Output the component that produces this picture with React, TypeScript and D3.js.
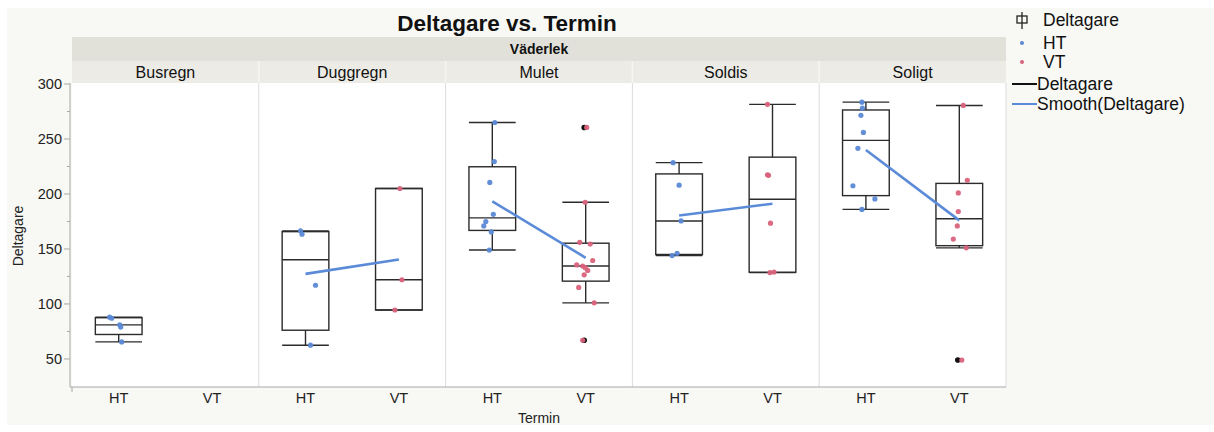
import React from 'react';
import * as d3 from 'd3';

// ---- Data ----
const panels = ['Busregn', 'Duggregn', 'Mulet', 'Soldis', 'Soligt'];
const terms = ['HT', 'VT'];

const busregnHT = [88, 87, 81, 79, 65.5];
const busregnVT: number[] = [];
const duggregnHT = [166.5, 163.5, 117, 62.5];
const duggregnVT = [205, 122, 94.5];
const muletHT = [265, 229.5, 210.5, 181.5, 175, 171, 165.5, 149];
const muletVT = [192.5, 156, 154.5, 139.5, 135.5, 134.5, 133, 130.5, 126.5, 115, 101, 260.5, 67];
const soldisHT = [228.5, 208, 175.5, 146, 144];
const soldisVT = [281.5, 217.5, 217, 173.5, 129, 128.5];
const soligtHT = [283.5, 278, 271.5, 256, 241.5, 207.5, 195.5, 186];
const soligtVT = [280.5, 212.5, 201, 184, 171, 159, 151, 49];

// horizontal jitter of each point (px, relative to the group centre)
const busregnHTJitter = [-9, -7, 1, 2, 3];
const busregnVTJitter: number[] = [];
const duggregnHTJitter = [-5, -3.5, 10, 5];
const duggregnVTJitter = [1, 3, -4];
const muletHTJitter = [2.5, 2, -2.5, 1, -6.5, -8.5, -1, -3];
const muletVTJitter = [-0.5, -6, 4.5, 7, -9, -3, -0.5, 2, -1.5, -7, 8.5, 1, -3];
const soldisHTJitter = [-6, 0, 2, -2, -7];
const soldisVTJitter = [-5, -5, -4, -2, 1.5, -2.5];
const soligtHTJitter = [-4, -3.5, -5, -2.5, -8, -13, 9, -4];
const soligtVTJitter = [4, 8, -1, -1, -2, -6, 7, 2.5];

const panelValues = [
  [busregnHT, busregnVT],
  [duggregnHT, duggregnVT],
  [muletHT, muletVT],
  [soldisHT, soldisVT],
  [soligtHT, soligtVT],
];
const panelJitter = [
  [busregnHTJitter, busregnVTJitter],
  [duggregnHTJitter, duggregnVTJitter],
  [muletHTJitter, muletVTJitter],
  [soldisHTJitter, soldisVTJitter],
  [soligtHTJitter, soligtVTJitter],
];

const yTicks = [50, 100, 150, 200, 250, 300];
const yMinorTicks = [75, 125, 175, 225, 275];

const title = 'Deltagare vs. Termin';
const facetTitle = 'Väderlek';
const yTitle = 'Deltagare';
const xTitle = 'Termin';

// ---- Styling ----
const FONT = '"Liberation Sans", Arial, Helvetica, sans-serif';
const HT_COLOR = '#5a89d6';
const VT_COLOR = '#d9627c';
const SMOOTH_COLOR = '#5b8bd8';
const BOX_COLOR = '#2b2b2b';

// JMP-style quantile: position p*(n+1)
function quant(sorted: number[], p: number) {
  const n = sorted.length;
  const pos = p * (n + 1);
  if (pos <= 1) return sorted[0];
  if (pos >= n) return sorted[n - 1];
  const lo = Math.floor(pos);
  const f = pos - lo;
  return sorted[lo - 1] + f * (sorted[lo] - sorted[lo - 1]);
}

function boxStats(vals: number[]) {
  const s = [...vals].sort((a, b) => a - b);
  const q1 = quant(s, 0.25);
  const med = quant(s, 0.5);
  const q3 = quant(s, 0.75);
  const iqr = q3 - q1;
  const loF = q1 - 1.5 * iqr;
  const hiF = q3 + 1.5 * iqr;
  const inside = s.filter((v) => v >= loF && v <= hiF);
  return {
    q1, med, q3,
    lo: d3.min(inside) as number,
    hi: d3.max(inside) as number,
    outliers: s.filter((v) => v < loF || v > hiF),
    mean: d3.mean(s) as number,
  };
}

export default function App() {
  const W = 1214, H = 432;
  const plotLeft = 72, plotRight = 1006, plotTop = 83, plotBottom = 387;
  const bandTop = 37, subTop = 61;

  const y = d3.scaleLinear().domain([24.5, 300]).range([plotBottom, 84]);
  const panelScale = d3.scaleBand<string>().domain(panels).range([plotLeft, plotRight]);
  const pw = panelScale.bandwidth();
  const xInner = d3.scaleBand<string>().domain(terms).range([0, pw]);
  const bw = xInner.bandwidth() / 2;

  return (
    <svg width={W} height={H} style={{ position: 'absolute', left: 0, top: 0 }} fontFamily={FONT}>
      <rect x={0} y={0} width={W} height={H} fill="#ffffff" />
      <rect x={7} y={8} width={W - 7} height={417} fill="#f8f8f4" />

      {/* title */}
      <text x={507} y={31} textAnchor="middle" fontSize={22.5} fontWeight="bold" fill="#111">{title}</text>

      {/* facet header */}
      <rect x={plotLeft} y={bandTop} width={plotRight - plotLeft} height={subTop - bandTop} fill="#e2e1d9" />
      <text x={(plotLeft + plotRight) / 2} y={54} textAnchor="middle" fontSize={14} fontWeight="bold" fill="#111">{facetTitle}</text>
      <rect x={plotLeft} y={subTop} width={plotRight - plotLeft} height={plotTop - subTop} fill="#ecebe5" />

      {/* plot area */}
      <rect x={plotLeft} y={plotTop} width={plotRight - plotLeft} height={plotBottom - plotTop} fill="#ffffff" />

      {panels.map((p, i) => {
        const px = panelScale(p) as number;
        return (
          <g key={p}>
            <text x={px + pw / 2} y={78} textAnchor="middle" fontSize={16} fill="#111">{p}</text>
            {i > 0 && <line x1={px} x2={px} y1={subTop} y2={plotTop} stroke="#f7f7f2" strokeWidth={1.5} />}
            {i > 0 && <line x1={px} x2={px} y1={plotTop} y2={plotBottom} stroke="#dcdcdc" strokeWidth={1} />}
          </g>
        );
      })}
      <line x1={plotRight} x2={plotRight} y1={plotTop} y2={plotBottom} stroke="#dcdcdc" />

      {/* y axis */}
      <line x1={70} x2={70} y1={plotTop} y2={plotBottom} stroke="#a8a8a8" />
      {yTicks.map((t) => (
        <g key={t}>
          <line x1={64} x2={70} y1={y(t)} y2={y(t)} stroke="#a8a8a8" />
          <text x={62} y={y(t) + 5} textAnchor="end" fontSize={14.5} fill="#222">{t}</text>
        </g>
      ))}
      {yMinorTicks.map((t) => (
        <line key={t} x1={67} x2={70} y1={y(t)} y2={y(t)} stroke="#a8a8a8" />
      ))}
      <text transform={`translate(23,236) rotate(-90)`} textAnchor="middle" fontSize={14} fill="#222">{yTitle}</text>

      {/* x axis */}
      <line x1={70} x2={plotRight} y1={plotBottom} y2={plotBottom} stroke="#a8a8a8" />
      <line x1={72} x2={72} y1={plotBottom} y2={plotBottom + 5} stroke="#a8a8a8" />
      {panels.map((p) =>
        terms.map((t) => {
          const cx = (panelScale(p) as number) + (xInner(t) as number) + xInner.bandwidth() / 2;
          return (
            <text key={p + t} x={cx} y={403} textAnchor="middle" fontSize={14.5} fill="#222">{t}</text>
          );
        })
      )}
      <text x={(plotLeft + plotRight) / 2} y={423} textAnchor="middle" fontSize={14} fill="#222">{xTitle}</text>

      {/* boxes, points, smoothers */}
      {panels.map((p, i) => {
        const px = panelScale(p) as number;
        const centres = terms.map((t) => px + (xInner(t) as number) + xInner.bandwidth() / 2);
        const stats = panelValues[i].map((v) => (v.length ? boxStats(v) : null));
        return (
          <g key={p}>
            {stats.map((s, j) => {
              if (!s) return null;
              const cx = centres[j];
              return (
                <g key={j} stroke={BOX_COLOR} strokeWidth={1.4} fill="none">
                  <rect x={cx - bw / 2} y={y(s.q3)} width={bw} height={y(s.q1) - y(s.q3)} />
                  <line x1={cx - bw / 2} x2={cx + bw / 2} y1={y(s.med)} y2={y(s.med)} />
                  <line x1={cx} x2={cx} y1={y(s.q3)} y2={y(s.hi)} />
                  <line x1={cx} x2={cx} y1={y(s.q1)} y2={y(s.lo)} />
                  <line x1={cx - bw / 2} x2={cx + bw / 2} y1={y(s.hi)} y2={y(s.hi)} />
                  <line x1={cx - bw / 2} x2={cx + bw / 2} y1={y(s.lo)} y2={y(s.lo)} />
                  {s.outliers.map((o, k) => (
                    <circle key={k} cx={cx - 1.5} cy={y(o)} r={2.8} fill="#111" stroke="none" />
                  ))}
                </g>
              );
            })}
            {panelValues[i].map((vals, j) =>
              vals.map((v, k) => (
                <circle
                  key={j + '-' + k}
                  cx={centres[j] + panelJitter[i][j][k]}
                  cy={y(v)}
                  r={2.6}
                  fill={j === 0 ? HT_COLOR : VT_COLOR}
                  opacity={0.95}
                />
              ))
            )}
            {stats[0] && stats[1] && (
              <line
                x1={centres[0]} y1={y(stats[0].mean)}
                x2={centres[1]} y2={y(stats[1].mean)}
                stroke={SMOOTH_COLOR} strokeWidth={2.6}
              />
            )}
          </g>
        );
      })}

      {/* legend */}
      <g fontSize={17.5} fill="#111">
        <g stroke="#222" strokeWidth={1.3} fill="none">
          <line x1={1022} x2={1022} y1={12} y2={29} />
          <rect x={1017} y={16} width={10} height={7} />
        </g>
        <text x={1043} y={26}>Deltagare</text>
        <circle cx={1022} cy={43} r={2} fill={HT_COLOR} />
        <text x={1043} y={49}>HT</text>
        <circle cx={1022} cy={62} r={2} fill={VT_COLOR} />
        <text x={1043} y={68}>VT</text>
        <line x1={1012} x2={1037} y1={84} y2={84} stroke="#111" strokeWidth={2} />
        <text x={1037} y={90}>Deltagare</text>
        <line x1={1012} x2={1037} y1={104} y2={104} stroke={SMOOTH_COLOR} strokeWidth={2} />
        <text x={1037} y={110}>Smooth(Deltagare)</text>
      </g>
    </svg>
  );
}
